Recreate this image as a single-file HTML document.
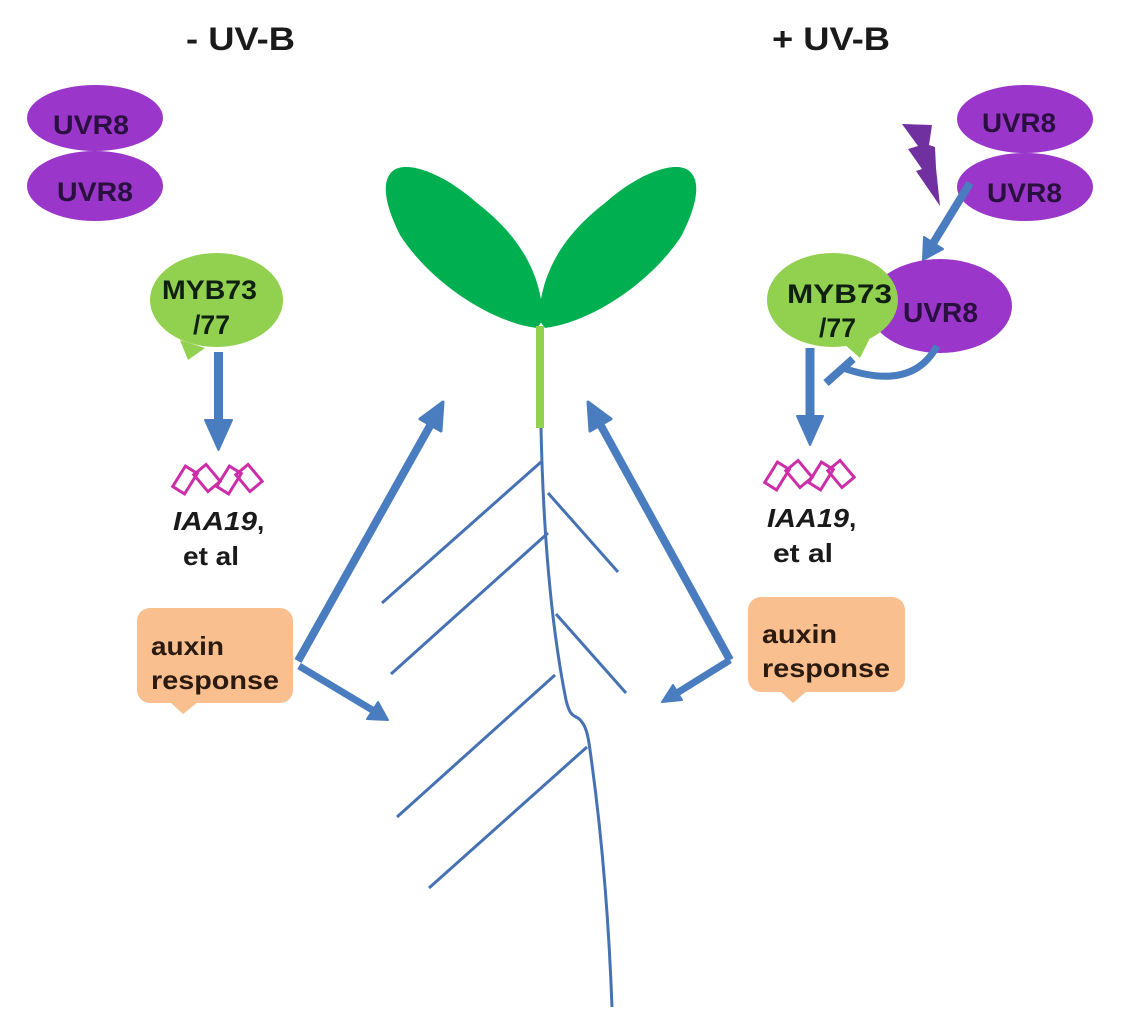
<!DOCTYPE html>
<html><head><meta charset="utf-8"><style>
html,body{margin:0;padding:0;background:#fff;}
svg{display:block;}
text{font-family:"Liberation Sans",Arial,sans-serif;font-weight:bold;}
</style></head><body>
<svg width="1128" height="1034" viewBox="0 0 1128 1034" xmlns="http://www.w3.org/2000/svg">
<rect width="1128" height="1034" fill="#fff"/>

<!-- Titles -->
<text x="186" y="50" font-size="32" fill="#1a1a1a" textLength="109" lengthAdjust="spacingAndGlyphs">- UV-B</text>
<text x="772" y="50" font-size="32" fill="#1a1a1a" textLength="118" lengthAdjust="spacingAndGlyphs">+ UV-B</text>

<!-- Left UVR8 dimer -->
<ellipse cx="95" cy="118" rx="68" ry="33" fill="#9a36c9"/>
<ellipse cx="95" cy="186" rx="68" ry="35" fill="#9a36c9"/>
<text x="53" y="134" font-size="27" fill="#2a1040" textLength="76" lengthAdjust="spacingAndGlyphs">UVR8</text>
<text x="57" y="201" font-size="27" fill="#2a1040" textLength="76" lengthAdjust="spacingAndGlyphs">UVR8</text>

<!-- Left MYB73 bubble -->
<path d="M180,340 L188,360 L205,348 Z" fill="#92d050"/>
<ellipse cx="216.5" cy="300" rx="66.5" ry="47" fill="#92d050"/>
<text x="162" y="299" font-size="27" fill="#102010" textLength="95" lengthAdjust="spacingAndGlyphs">MYB73</text>
<text x="193" y="334" font-size="27" fill="#102010" textLength="37" lengthAdjust="spacingAndGlyphs">/77</text>

<!-- Left down arrow -->
<line x1="218.5" y1="352" x2="218.5" y2="424" stroke="#4a7dbf" stroke-width="9"/>
<path d="M205,420 L232,420 L218.5,450 Z" fill="#4a7dbf" stroke="#4a7dbf" stroke-width="2" stroke-linejoin="round"/>

<!-- Left DNA symbol -->
<g fill="none" stroke="#cc2ea8" stroke-width="3">
  <rect x="-7" y="-12" width="14" height="24" transform="translate(185,480) rotate(32)"/>
  <rect x="-8" y="-11" width="16" height="22" transform="translate(207,478) rotate(-40)"/>
  <rect x="-7" y="-12" width="14" height="24" transform="translate(229,480) rotate(32)"/>
  <rect x="-8" y="-11" width="16" height="22" transform="translate(249,478) rotate(-40)"/>
</g>
<text x="173" y="530" font-size="26" font-style="italic" fill="#1a1a1a" textLength="84" lengthAdjust="spacingAndGlyphs">IAA19</text>
<text x="257" y="530" font-size="26" fill="#1a1a1a">,</text>
<text x="183" y="565" font-size="26" fill="#1a1a1a" textLength="56" lengthAdjust="spacingAndGlyphs">et al</text>

<!-- Left auxin box -->
<rect x="137" y="608" width="156" height="95" rx="13" fill="#f9bf8f"/>
<path d="M170,702 L183,714 L198,702 Z" fill="#f9bf8f"/>
<text x="151" y="655" font-size="26" fill="#2b1a10" textLength="73" lengthAdjust="spacingAndGlyphs">auxin</text>
<text x="151" y="689" font-size="26" fill="#2b1a10" textLength="128" lengthAdjust="spacingAndGlyphs">response</text>

<!-- Right UVR8 dimer -->
<ellipse cx="1025" cy="119" rx="68" ry="34" fill="#9a36c9"/>
<ellipse cx="1025" cy="187" rx="68" ry="34" fill="#9a36c9"/>
<text x="982" y="132" font-size="27" fill="#2a1040" textLength="74" lengthAdjust="spacingAndGlyphs">UVR8</text>
<text x="987" y="202" font-size="27" fill="#2a1040" textLength="75" lengthAdjust="spacingAndGlyphs">UVR8</text>

<!-- Lightning -->
<polygon points="902,124 932,125 929,145 935,147 936,168 940,206 916,171 922,169 908,149 918,146" fill="#7030a0"/>

<!-- Arrow UVR8 dimer -> monomer -->
<line x1="970" y1="183" x2="932" y2="245" stroke="#4a7dbf" stroke-width="8"/>
<path d="M923,260 L943,249 L924,237 Z" fill="#4a7dbf" stroke="#4a7dbf" stroke-width="2" stroke-linejoin="round"/>

<!-- UVR8 monomer -->
<ellipse cx="940" cy="306" rx="72" ry="47" fill="#9a36c9"/>
<text x="903" y="322" font-size="28" fill="#2a1040" textLength="75" lengthAdjust="spacingAndGlyphs">UVR8</text>

<!-- Right MYB73 bubble -->
<path d="M843,343 L860,358 L870,338 Z" fill="#92d050"/>
<ellipse cx="832.5" cy="300" rx="65.5" ry="47" fill="#92d050"/>
<text x="787" y="303" font-size="27" fill="#102010" textLength="105" lengthAdjust="spacingAndGlyphs">MYB73</text>
<text x="819" y="337" font-size="27" fill="#102010" textLength="37" lengthAdjust="spacingAndGlyphs">/77</text>

<!-- Inhibition arc -->
<path d="M937,346 Q912,392 843,368" fill="none" stroke="#4a7dbf" stroke-width="7"/>
<line x1="826" y1="383" x2="853" y2="359" stroke="#4a7dbf" stroke-width="8"/>

<!-- Right down arrow -->
<line x1="810" y1="348" x2="810" y2="420" stroke="#4a7dbf" stroke-width="9"/>
<path d="M797,416 L823,416 L810,445 Z" fill="#4a7dbf" stroke="#4a7dbf" stroke-width="2" stroke-linejoin="round"/>

<!-- Right DNA symbol -->
<g fill="none" stroke="#cc2ea8" stroke-width="3">
  <rect x="-7" y="-12" width="14" height="24" transform="translate(777,476) rotate(32)"/>
  <rect x="-8" y="-11" width="16" height="22" transform="translate(799,474) rotate(-40)"/>
  <rect x="-7" y="-12" width="14" height="24" transform="translate(821,476) rotate(32)"/>
  <rect x="-8" y="-11" width="16" height="22" transform="translate(841,474) rotate(-40)"/>
</g>
<text x="767" y="527" font-size="26" font-style="italic" fill="#1a1a1a" textLength="82" lengthAdjust="spacingAndGlyphs">IAA19</text>
<text x="849" y="527" font-size="26" fill="#1a1a1a">,</text>
<text x="773" y="562" font-size="26" fill="#1a1a1a" textLength="60" lengthAdjust="spacingAndGlyphs">et al</text>

<!-- Right auxin box -->
<rect x="748" y="597" width="157" height="95" rx="13" fill="#f9bf8f"/>
<path d="M780,691 L793,703 L807,691 Z" fill="#f9bf8f"/>
<text x="762" y="643" font-size="26" fill="#2b1a10" textLength="75" lengthAdjust="spacingAndGlyphs">auxin</text>
<text x="762" y="677" font-size="26" fill="#2b1a10" textLength="128" lengthAdjust="spacingAndGlyphs">response</text>

<!-- Seedling leaves -->
<path d="M537,328 C490,322 430,282 400,235 C385,205 380,180 394,170 C410,160 447,176 477,203 C515,232 542,270 543,320 Z" fill="#00b050"/>
<path d="M537,328 C490,322 430,282 400,235 C385,205 380,180 394,170 C410,160 447,176 477,203 C515,232 542,270 543,320 Z" fill="#00b050" transform="translate(1082,0) scale(-1,1)"/>
<!-- Stem -->
<rect x="536" y="326" width="8" height="102" fill="#92d050"/>

<!-- Root -->
<g fill="none" stroke="#4672b4" stroke-width="3" stroke-linecap="butt">
  <path d="M541,428 C543,520 550,620 566,700 C569,712 571,715 578,718 C586,724 588,735 590,750 C600,820 608,900 612,1007"/>
  <line x1="541" y1="462" x2="382" y2="603"/>
  <line x1="548" y1="533" x2="391" y2="674"/>
  <line x1="555" y1="675" x2="397" y2="817"/>
  <line x1="587" y1="747" x2="429" y2="888"/>
  <line x1="548" y1="493" x2="618" y2="572"/>
  <line x1="556" y1="614" x2="626" y2="693"/>
</g>

<!-- Big arrows left -->
<line x1="298" y1="661" x2="431" y2="424" stroke="#4a7dbf" stroke-width="8"/>
<path d="M443,402 L420,419 L441,431 Z" fill="#4a7dbf" stroke="#4a7dbf" stroke-width="3" stroke-linejoin="round"/>
<line x1="299" y1="666" x2="374" y2="711" stroke="#4a7dbf" stroke-width="7"/>
<path d="M388,720 L367,719 L378,702 Z" fill="#4a7dbf" stroke="#4a7dbf" stroke-width="2" stroke-linejoin="round"/>

<!-- Big arrows right -->
<line x1="730" y1="660" x2="600" y2="424" stroke="#4a7dbf" stroke-width="8"/>
<path d="M588,402 L611,419 L590,431 Z" fill="#4a7dbf" stroke="#4a7dbf" stroke-width="3" stroke-linejoin="round"/>
<line x1="730" y1="660" x2="677" y2="693" stroke="#4a7dbf" stroke-width="7"/>
<path d="M662,702 L682,700 L673,685 Z" fill="#4a7dbf" stroke="#4a7dbf" stroke-width="2" stroke-linejoin="round"/>
</svg>
</body></html>
